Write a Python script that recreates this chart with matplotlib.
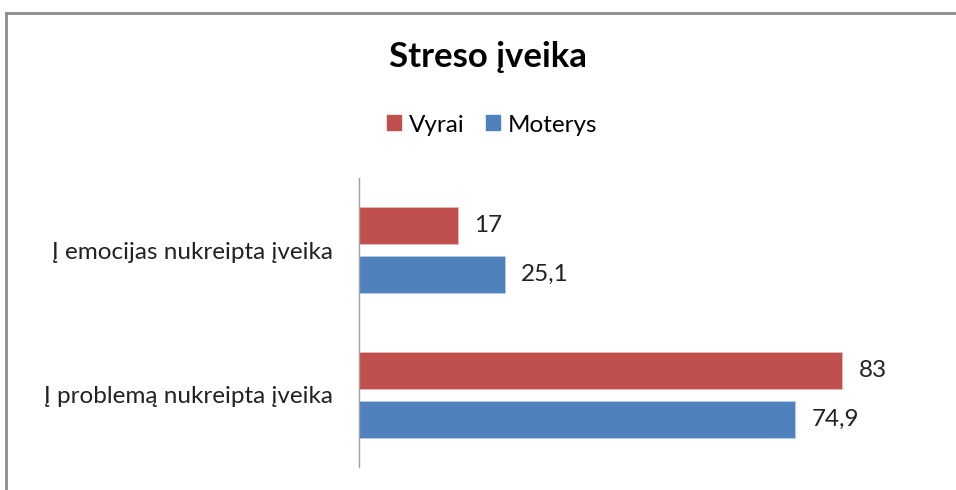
import matplotlib
matplotlib.use("Agg")
import matplotlib.pyplot as plt
from matplotlib.lines import Line2D
from matplotlib.patches import Patch

categories = ["Į problemą nukreipta įveika", "Į emocijas nukreipta įveika"]
series_names = ["Vyrai", "Moterys"]
vyrai = [83, 17]
moterys = [74.9, 25.1]
vyrai_labels = ["83", "17"]
moterys_labels = ["74,9", "25,1"]

RED = "#C0504D"
BLUE = "#4F81BD"
plt.rcParams['font.family'] = ['Lato', 'DejaVu Sans']

W, H = 956, 490
fig = plt.figure(figsize=(W / 100, H / 100), dpi=100)
# axes area: x 358.5..941.5 px, y 178..467 px
ax = fig.add_axes([358.5 / W, 1 - 467 / H, 583 / W, 289 / H])

FS = 17.5
bh = 0.256
off = 0.168
ypos = list(range(len(categories)))
for i, y in enumerate(ypos):
    ax.barh(y + off, vyrai[i], height=bh, color=RED, edgecolor="#E6B9B8", linewidth=0.6)
    ax.barh(y - off, moterys[i], height=bh, color=BLUE, edgecolor="#B9CDE5", linewidth=0.6)
    ax.text(vyrai[i] + 2.8, y + off, vyrai_labels[i], va="center", ha="left", fontsize=FS, color="#222222")
    ax.text(moterys[i] + 2.8, y - off, moterys_labels[i], va="center", ha="left", fontsize=FS, color="#222222")

ax.set_xlim(0, 100)
ax.set_ylim(-0.5, 1.5)
ax.set_yticks(ypos)
ax.set_yticklabels(categories, fontsize=FS, color="#222222")
ax.tick_params(axis="y", length=0, pad=18)
ax.set_xticks([])
for s in ["top", "right", "bottom"]:
    ax.spines[s].set_visible(False)
ax.spines["left"].set_color("#A0A0A0")
ax.spines["left"].set_linewidth(1.0)

fig.text(487.5 / W, 1 - 57 / H, "Streso įveika", ha="center", va="center", fontsize=25, fontweight="bold", color="black")

handles = [Patch(facecolor=RED, edgecolor=RED), Patch(facecolor=BLUE, edgecolor=BLUE)]
fig.legend(handles, series_names, loc="center", bbox_to_anchor=(492 / W, 1 - 125 / H), ncol=2,
           frameon=False, fontsize=FS, handlelength=0.58, handleheight=0.58, handletextpad=0.3,
           columnspacing=0.9)

# outer frame (partial)
fig.add_artist(Line2D([5.5 / W, 5.5 / W], [0, 1 - 13 / H], transform=fig.transFigure, color="#8C8C8C", lw=2))
fig.add_artist(Line2D([5.5 / W, 1], [1 - 13 / H, 1 - 13 / H], transform=fig.transFigure, color="#8C8C8C", lw=2))

fig.savefig("out.png", dpi=100, facecolor="white")
